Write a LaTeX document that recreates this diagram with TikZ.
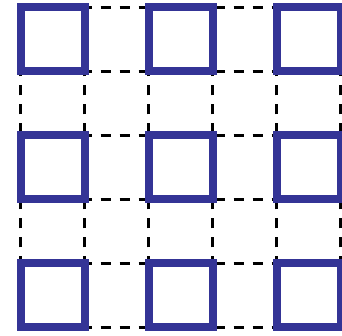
\documentclass[tikz,border=0pt]{standalone}
\definecolor{cellblue}{RGB}{52,52,150}
\tikzset{
  gridline/.style={black,line width=2.2pt,dash pattern=on 10pt off 9pt,dash phase=-4pt},
  cellbox/.style={cellblue,line width=8pt}
}
\begin{document}
\begin{tikzpicture}[x=1pt,y=1pt]

% Frame
\useasboundingbox (0,0) rectangle (342,336);
\clip (0,0) rectangle (342,336);

\begin{scope}[shift={(20.5,8.5)}]
% Corners of the lattice
\coordinate (SW) at (0,0);
\coordinate (NE) at (320,320);

% Draw dashed grid lines
\draw[gridline] (SW) grid[step=64] (NE);

% Draw squares
\foreach \i in {0,2,4} {
  \foreach \j in {0,2,4} {
    \draw[cellbox] (64*\i,64*\j) rectangle ++(64,64);
  }
}
\end{scope}

\end{tikzpicture}
\end{document}
